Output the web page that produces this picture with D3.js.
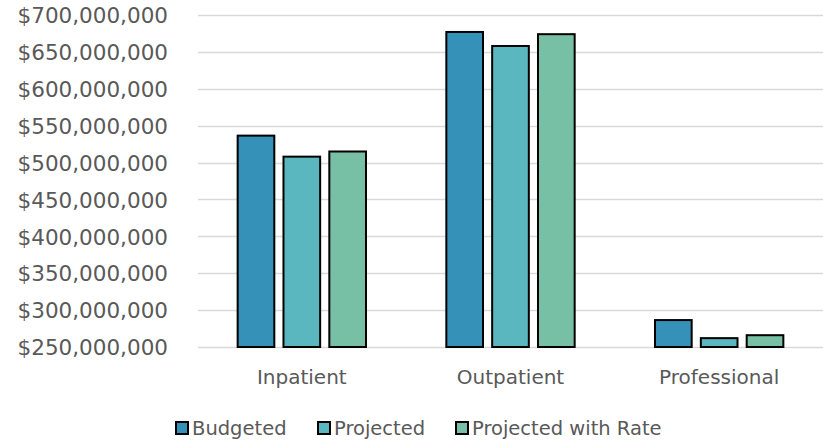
<!DOCTYPE html>
<html>
<head>
<meta charset="utf-8">
<script src="https://cdn.jsdelivr.net/npm/d3@7"></script>
<style>
  html, body { margin: 0; padding: 0; background: #fff; }
  svg { display: block; }
  text { font-family: "DejaVu Sans", sans-serif; fill: #595959; }
</style>
</head>
<body>
<svg id="chart" width="823" height="441"></svg>
<script>
// Cost categories and the three scenarios compared for each
const categories = ["Inpatient", "Outpatient", "Professional"];
const seriesNames = ["Budgeted", "Projected", "Projected with Rate"];
const budgeted = [536500000, 677000000, 286500000];
const projected = [508000000, 658000000, 262000000];
const projectedWithRate = [515000000, 674000000, 266000000];
const yTicks = [250000000, 300000000, 350000000, 400000000, 450000000, 500000000, 550000000, 600000000, 650000000, 700000000];
const colors = ["#3591b8", "#5ab6bf", "#77bfa5"];

const seriesValues = [budgeted, projected, projectedWithRate];

const svg = d3.select("#chart");
const margin = { left: 198, right: 0, top: 15, bottom: 94 };
const W = 823, H = 441;

const x0 = d3.scaleBand()
  .domain(categories)
  .range([margin.left, W - margin.right])
  .paddingInner(0.385)
  .paddingOuter(0.19);

const x1 = d3.scaleBand()
  .domain(seriesNames)
  .range([0, x0.bandwidth()])
  .paddingInner(0.2);

const y = d3.scaleLinear()
  .domain([250000000, 700000000])
  .range([H - margin.bottom, margin.top]);

const fmt = v => "$" + d3.format(",")(v);

// Horizontal gridlines
svg.append("g")
  .selectAll("line")
  .data(yTicks)
  .join("line")
  .attr("x1", margin.left)
  .attr("x2", W)
  .attr("y1", d => Math.round(y(d)) + 0.5)
  .attr("y2", d => Math.round(y(d)) + 0.5)
  .attr("stroke", "#d9d9d9")
  .attr("stroke-width", 1.5);

// Y axis labels
const yAxis = d3.axisLeft(y).tickValues(yTicks).tickFormat(fmt).tickSize(0).tickPadding(0);
const yg = svg.append("g")
  .attr("transform", `translate(${168},0)`)
  .call(yAxis);
yg.select(".domain").remove();
yg.selectAll("text")
  .attr("font-size", 21.5)
  .attr("font-family", "DejaVu Sans, sans-serif")
  .attr("fill", "#595959")
  .attr("dy", "0.36em");

// Bars
const groups = svg.append("g")
  .selectAll("g")
  .data(categories)
  .join("g")
  .attr("transform", d => `translate(${x0(d)},0)`);

groups.selectAll("rect")
  .data((c, i) => seriesNames.map((s, j) => ({ s, j, v: seriesValues[j][i] })))
  .join("rect")
  .attr("x", d => x1(d.s))
  .attr("width", x1.bandwidth())
  .attr("y", d => y(d.v))
  .attr("height", d => y(250000000) - y(d.v))
  .attr("fill", d => colors[d.j])
  .attr("stroke", "#000")
  .attr("stroke-width", 2);

// Category labels
const xAxis = d3.axisBottom(x0).tickSize(0).tickPadding(0);
const xg = svg.append("g")
  .attr("transform", `translate(0,${H - margin.bottom + 30})`)
  .call(xAxis);
xg.select(".domain").remove();
xg.selectAll("text")
  .attr("font-size", 20)
  .attr("font-family", "DejaVu Sans, sans-serif")
  .attr("fill", "#595959")
  .attr("dy", "0.35em");

// Legend
const legendX = [176, 318, 456];
const legend = svg.append("g")
  .selectAll("g")
  .data(seriesNames)
  .join("g")
  .attr("transform", (d, i) => `translate(${legendX[i]},${422})`);
legend.append("rect")
  .attr("width", 12)
  .attr("height", 12)
  .attr("fill", (d, i) => colors[i])
  .attr("stroke", "#000")
  .attr("stroke-width", 2);
legend.append("text")
  .attr("x", 16)
  .attr("y", 6)
  .attr("dy", "0.36em")
  .attr("font-size", 19.5)
  .text(d => d);
</script>
</body>
</html>
